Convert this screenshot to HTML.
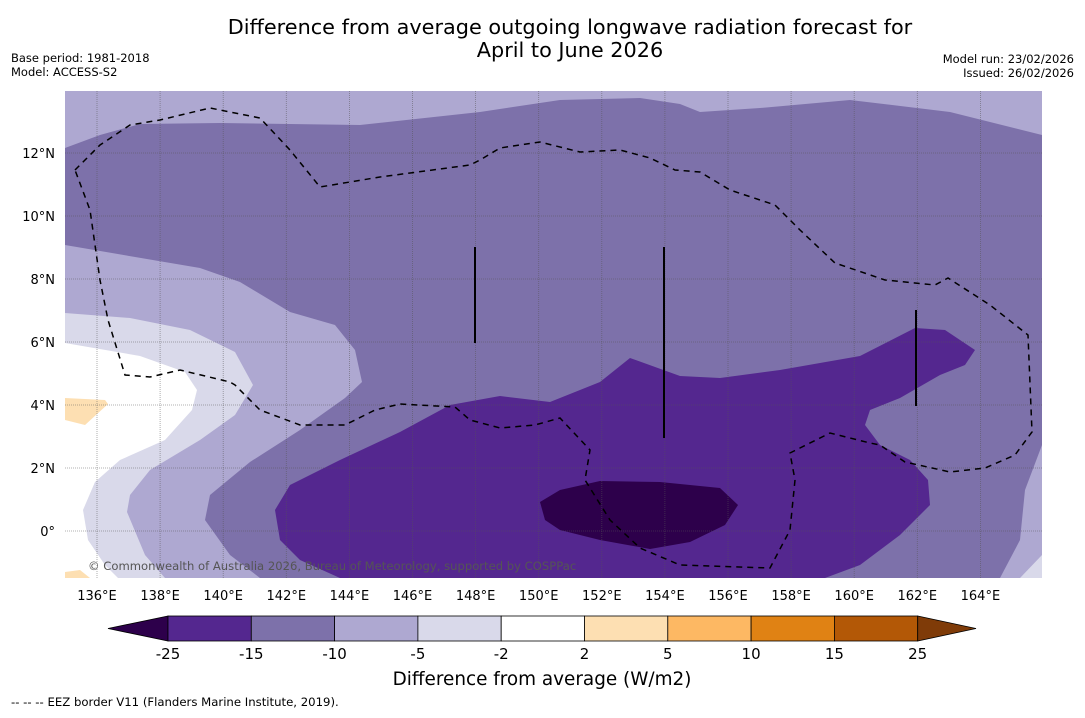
<!DOCTYPE html>
<html><head><meta charset="utf-8"><style>
body{margin:0;background:#fff;font-family:"Liberation Sans","DejaVu Sans",sans-serif;}
svg text{font-family:"DejaVu Sans","Liberation Sans",sans-serif;}
</style></head><body>
<svg id="chart" width="1085" height="713" viewBox="0 0 1085 713" xmlns="http://www.w3.org/2000/svg">
<rect width="1085" height="713" fill="#fff"/>
<text x="570" y="34" font-size="20.8" text-anchor="middle" fill="#000">Difference from average outgoing longwave radiation forecast for</text>
<text x="570" y="57" font-size="20.8" text-anchor="middle" fill="#000">April to June 2026</text>
<text x="11" y="62" font-size="11.5">Base period: 1981-2018</text>
<text x="11" y="76" font-size="11.5">Model: ACCESS-S2</text>
<text x="1074" y="63" font-size="11.5" text-anchor="end">Model run: 23/02/2026</text>
<text x="1074" y="77" font-size="11.5" text-anchor="end">Issued: 26/02/2026</text>
<defs><clipPath id="mc"><rect x="65" y="91" width="977" height="487"/></clipPath></defs>
<g id="map" clip-path="url(#mc)"></g>
<g id="axes"></g>
<g id="cbar"></g>
<text x="542" y="685" font-size="18.4" text-anchor="middle">Difference from average (W/m2)</text>
<text x="11" y="706" font-size="11.7">--  --  -- EEZ border V11 (Flanders Marine Institute, 2019).</text>
</svg>
<script>
const lonTicks=[136,138,140,142,144,146,148,150,152,154,156,158,160,162,164];
const latTicks=[0,2,4,6,8,10,12];
const levels=["-25","-15","-10","-5","-2","2","5","10","15","25"];
const levelColors=["#2d004b","#54278f","#7d71aa","#aea8d1","#d9d9ea","#ffffff","#fddfb2","#fdb863","#e08214","#b35806","#7f3b08"];
const X=lon=>97+(lon-136)*31.55;
const Y=lat=>531-lat*31.5;
const NS="http://www.w3.org/2000/svg";
const map=document.getElementById('map'),axes=document.getElementById('axes'),cbar=document.getElementById('cbar');
function mk(tag,attrs,parent){const e=document.createElementNS(NS,tag);for(const k in attrs)e.setAttribute(k,attrs[k]);parent.appendChild(e);return e;}
const layers=[
 {name:'contour-light',c:"#aea8d1",p:"65,91 1042,91 1042,578 65,578"},
 {name:'contour-medium',c:"#7d71aa",p:"65,148 100,135 140,124 220,123 360,125 480,112 560,100 640,98 680,104 700,112 760,108 850,100 950,112 1042,135 1042,445 1025,490 1020,540 1000,578 260,578 230,555 205,520 210,495 250,462 300,430 345,398 362,382 355,350 335,325 290,312 240,282 200,268 65,245"},
 {name:'contour-verylight',c:"#d9d9ea",p:"65,313 130,318 190,330 235,352 253,385 235,415 200,440 150,470 130,495 127,512 145,555 165,578 65,578"},
 {name:'contour-neutral',c:"#ffffff",p:"65,343 140,356 185,372 197,390 192,410 165,440 120,460 95,482 83,510 88,540 105,565 118,578 65,578"},
 {name:'contour-orange-a',c:"#fddfb2",p:"65,398 105,400 108,404 85,425 65,420"},
 {name:'contour-orange-b',c:"#fddfb2",p:"65,572 80,570 90,578 65,578"},
 {name:'contour-verylight-br',c:"#d9d9ea",p:"1042,555 1020,578 1042,578"},
 {name:'contour-dark',c:"#54278f",p:"275,510 290,485 340,460 400,432 450,405 500,396 550,402 600,382 630,358 680,376 720,378 780,370 860,356 915,328 945,330 975,350 965,365 940,375 900,398 870,410 865,425 880,445 910,460 928,480 930,505 900,535 860,565 825,578 340,578 300,560 280,540"},
 {name:'contour-darkest',c:"#2d004b",p:"540,502 560,490 600,481 660,482 720,488 738,505 725,525 690,542 650,549 600,540 560,530 545,520"}
];
layers.forEach(l=>{const e=mk('polygon',{points:l.p,fill:l.c},map);

});
lonTicks.forEach(v=>{const g=mk('line',{x1:X(v),x2:X(v),y1:91,y2:578,stroke:'#555','stroke-width':0.8,'stroke-dasharray':'1,1','stroke-opacity':0.6},map);

});
latTicks.forEach(v=>{const g=mk('line',{x1:65,x2:1042,y1:Y(v),y2:Y(v),stroke:'#555','stroke-width':0.8,'stroke-dasharray':'1,1','stroke-opacity':0.6},map);

});
const eez=mk('polyline',{points:"75,170 100,145 130,125 160,120 210,108 260,118 290,150 320,187 380,177 470,165 480,160 500,148 540,142 580,152 620,150 650,158 675,170 700,172 730,190 775,205 800,230 835,263 885,280 935,285 948,278 990,305 1028,335 1032,432 1015,455 985,468 950,472 905,462 880,445 870,443 830,433 790,453 795,480 790,530 770,568 680,565 640,548 610,520 585,480 590,450 560,418 535,425 500,428 470,420 455,407 400,404 375,410 345,425 300,425 260,410 235,385 230,382 180,370 150,377 125,375 108,320 100,280 90,210 75,170",fill:'none',stroke:'#000','stroke-width':1.5,'stroke-dasharray':'6,5'},map);


[[475,247,343],[664,247,438],[916,310,406]].forEach(a=>{const l=mk('line',{x1:a[0],x2:a[0],y1:a[1],y2:a[2],stroke:'#000','stroke-width':2},map);

});
const cp=mk('text',{x:88,y:570,'font-size':11.6,fill:'#555'},map);cp.textContent="© Commonwealth of Australia 2026, Bureau of Meteorology, supported by COSPPac";


lonTicks.forEach(v=>{const t=mk('text',{x:X(v),y:600,'font-size':13,'text-anchor':'middle'},axes);t.textContent=v+"°E";

});
latTicks.forEach(v=>{const t=mk('text',{x:55,y:Y(v)+5,'font-size':13,'text-anchor':'end'},axes);t.textContent=v===0?"0°":v+"°N";

});
const cx0=168,cw=83.3,cy=616,ch=25;
levelColors.forEach((c,i)=>{let e;
 if(i===0)e=mk('polygon',{points:`${cx0},${cy} 108,${cy+ch/2} ${cx0},${cy+ch}`,fill:c,stroke:'#000','stroke-width':0.8},cbar);
 else if(i===levelColors.length-1){const xe=cx0+(i-1)*cw;e=mk('polygon',{points:`${xe},${cy} 976,${cy+ch/2} ${xe},${cy+ch}`,fill:c,stroke:'#000','stroke-width':0.8},cbar);}
 else e=mk('rect',{x:cx0+(i-1)*cw,y:cy,width:cw,height:ch,fill:c,stroke:'#000','stroke-width':0.8},cbar);
 
 });
levels.forEach((s,i)=>{const t=mk('text',{x:cx0+i*cw,y:659,'font-size':15,'text-anchor':'middle'},cbar);t.textContent=s;

});
</script>
</body></html>
